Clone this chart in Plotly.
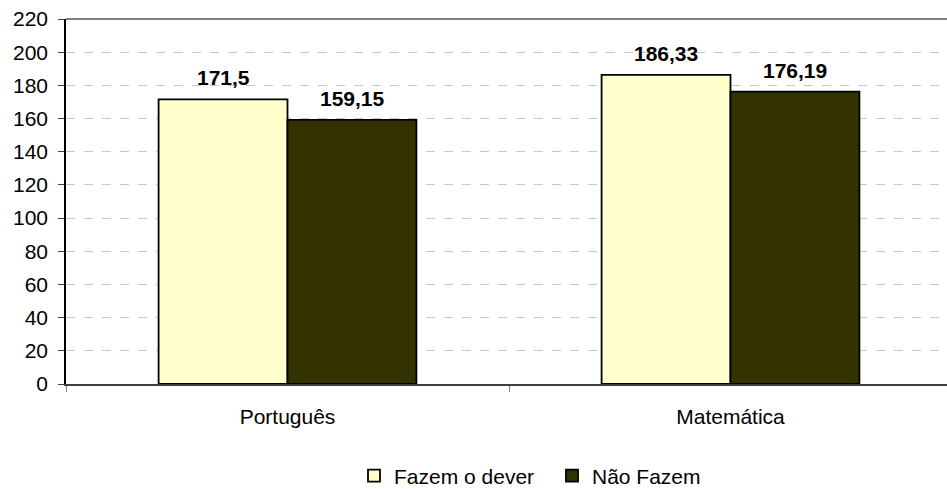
import plotly.graph_objects as go

categories = ["Português", "Matemática"]
fazem = [171.5, 186.33]
nao_fazem = [159.15, 176.19]
series_names = ["Fazem o dever", "Não Fazem"]
y_ticks = list(range(0, 221, 20))

FONT = "Liberation Sans, Arial, sans-serif"

def fmt(v):
    return ("%g" % v).replace(".", ",")

fig = go.Figure()
fig.add_trace(go.Bar(
    x=categories, y=fazem, name=series_names[0],
    marker=dict(color="#FFFFCC", line=dict(color="#000000", width=1.8)),
))
fig.add_trace(go.Bar(
    x=categories, y=nao_fazem, name=series_names[1],
    marker=dict(color="#333300", line=dict(color="#000000", width=1.8)),
))

for vals, shift in ((fazem, -64.5), (nao_fazem, 64.5)):
    for c, v in zip(categories, vals):
        fig.add_annotation(x=c, y=v, text="<b>%s</b>" % fmt(v), showarrow=False,
                           xanchor="center", yanchor="bottom", xshift=shift, yshift=8,
                           font=dict(family=FONT, size=21, color="#000000"))

W = 953
fig.update_layout(
    width=W, height=489,
    margin=dict(l=66, r=1, t=19, b=105, autoexpand=False),
    paper_bgcolor="white", plot_bgcolor="white",
    barmode="group", bargap=0.418, bargroupgap=0,
    font=dict(family=FONT, size=21, color="#000000"),
    showlegend=True,
    legend=dict(orientation="h", xref="container", x=354 / W, xanchor="left",
                yref="container", y=(489 - 476) / 489, yanchor="middle",
                font=dict(size=21), entrywidth=153, entrywidthmode="pixels",
                traceorder="normal"),
    xaxis=dict(
        automargin=False,
        showline=True, linecolor="#404040", linewidth=2,
        ticks="outside", tickson="boundaries", ticklen=6, tickcolor="#808080",
        tickfont=dict(size=21), ticklabelstandoff=13,
    ),
    yaxis=dict(
        automargin=False,
        range=[0, 220], tickvals=y_ticks, showline=True, linecolor="#000000", linewidth=1.5,
        ticks="outside", ticklen=6, tickcolor="#404040",
        showgrid=True, gridcolor="#C8C8C8", griddash="dash", gridwidth=1,
        tickfont=dict(size=21), zeroline=False, ticklabelstandoff=6,
    ),
)
fig.add_shape(type="line", xref="paper", yref="paper", x0=0, x1=1, y0=1, y1=1,
              line=dict(color="#808080", width=2))
fig.write_html("out.html", config={"displayModeBar": False},
               post_script="document.body.style.margin='0';document.body.style.overflow='hidden';")
